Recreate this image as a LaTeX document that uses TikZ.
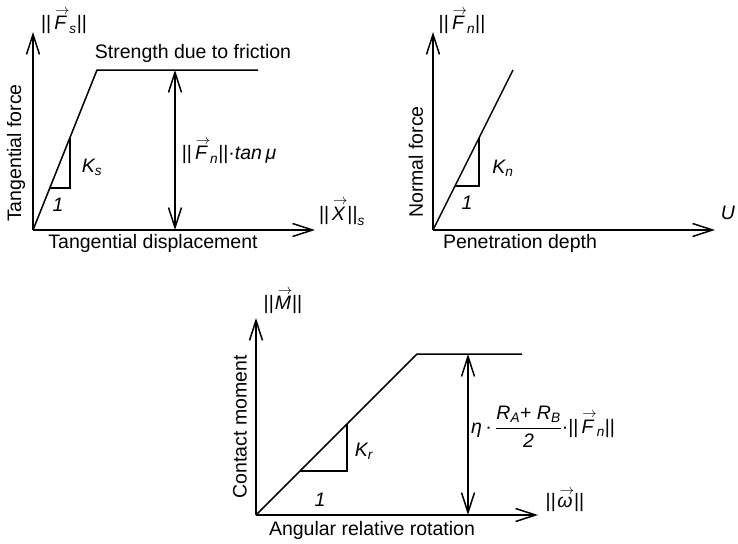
\documentclass[tikz,border=0pt]{standalone}
\usepackage{amsmath}
\usepackage{fontspec}
\setmainfont{Liberation Sans}
\usetikzlibrary{arrows.meta}

\newcommand{\nrm}[1]{\text{||}#1\text{||}}
\newcommand{\iv}[1]{\text{\itshape #1}}
\newcommand{\vt}[1]{\overset{\raisebox{-0.6ex}{$\scriptstyle\kern0.2em\rightarrow$}}{\iv{#1}}}

\begin{document}
\begin{tikzpicture}[x=1pt, y=-1pt, line width=1.5pt,
	every node/.style={font=\fontsize{19.5}{22}\selectfont, inner sep=0pt},
	axis/.style={-{Straight Barb[length=20pt,width=13pt]}},
	dim/.style={{Straight Barb[length=20pt,width=13pt]}-{Straight Barb[length=20pt,width=13pt]}}]
	\useasboundingbox (0,0) rectangle (738,543);
	
	% tangential
	\coordinate (o1) at (33,230);
	\coordinate (y1) at (33,32);
	\coordinate (x1) at (315,230);
	\coordinate (p1) at (97,70);
	\coordinate (e1) at (258,70);
	\coordinate (d1) at (175,70);
	\coordinate (b1) at (175,230);
	\coordinate (t1a) at (50,188);
	\coordinate (t1b) at (70,188);
	\coordinate (t1c) at (70,138);
	\draw[axis] (o1) -- (y1);
	\draw[axis] (o1) -- (x1);
	\draw (o1) -- (p1) -- (e1);
	\draw[dim] (d1) -- (b1);
	\draw (t1a) -- (t1b) -- (t1c);
	\node (fs) at (64,20) {$\nrm{\vt{F}_{\iv{s}}}$};
	\node (str) at (193,53) {Strength due to friction};
	\node[rotate=90] (tf) at (16,153) {Tangential force};
	\node (td) at (153,243) {Tangential displacement};
	\node (ks) at (92,167) {$\iv{K}_{\iv{s}}$};
	\node (one1) at (58,205) {\itshape 1};
	\node (fric) at (229,150) {$\nrm{\vt{F}_{\iv{n}}}\text{·}\iv{tan}\,\iv{μ}$};
	\node (xs) at (342,211) {$\nrm{\vt{X}}_{\iv{s}}$};
	
	% normal
	\coordinate (o2) at (433,230);
	\coordinate (y2) at (433,32);
	\coordinate (x2) at (715,230);
	\coordinate (p2) at (513,70);
	\coordinate (t2a) at (455,186);
	\coordinate (t2b) at (479,186);
	\coordinate (t2c) at (479,138);
	\draw[axis] (o2) -- (y2);
	\draw[axis] (o2) -- (x2);
	\draw (o2) -- (p2);
	\draw (t2a) -- (t2b) -- (t2c);
	\node (fn) at (462,20) {$\nrm{\vt{F}_{\iv{n}}}$};
	\node[rotate=90] (nf) at (416,162) {Normal force};
	\node (pd) at (520,243) {Penetration depth};
	\node (kn) at (503,168) {$\iv{K}_{\iv{n}}$};
	\node (one2) at (467,203) {\itshape 1};
	\node (u) at (728,213) {\itshape U};
	
	% rolling
	\coordinate (o3) at (256,515);
	\coordinate (y3) at (256,318);
	\coordinate (x3) at (538,515);
	\coordinate (p3) at (417,354);
	\coordinate (e3) at (522,354);
	\coordinate (d3) at (468,354);
	\coordinate (b3) at (468,515);
	\coordinate (t3a) at (300,471);
	\coordinate (t3b) at (347,471);
	\coordinate (t3c) at (347,424);
	\draw[axis] (o3) -- (y3);
	\draw[axis] (o3) -- (x3);
	\draw (o3) -- (p3) -- (e3);
	\draw[dim] (d3) -- (b3);
	\draw (t3a) -- (t3b) -- (t3c);
	\node (m) at (283,300) {$\nrm{\vt{M}}$};
	\node[rotate=90] (cm) at (240,427) {Contact moment};
	\node (ar) at (372,530) {Angular relative rotation};
	\node (kr) at (364,451) {$\iv{K}_{\iv{r}}$};
	\node (one3) at (320,500) {\itshape 1};
	\node (om) at (565,499) {$\nrm{\vt{ω}}$};
	\node (eta) at (543,427) {$\iv{η}\,\text{·}\,\dfrac{\iv{R}_{\iv{A}}\text{+ }\iv{R}_{\iv{B}}}{\iv{2}}\text{·}\nrm{\vt{F}_{\iv{n}}}$};
\end{tikzpicture}
\end{document}
